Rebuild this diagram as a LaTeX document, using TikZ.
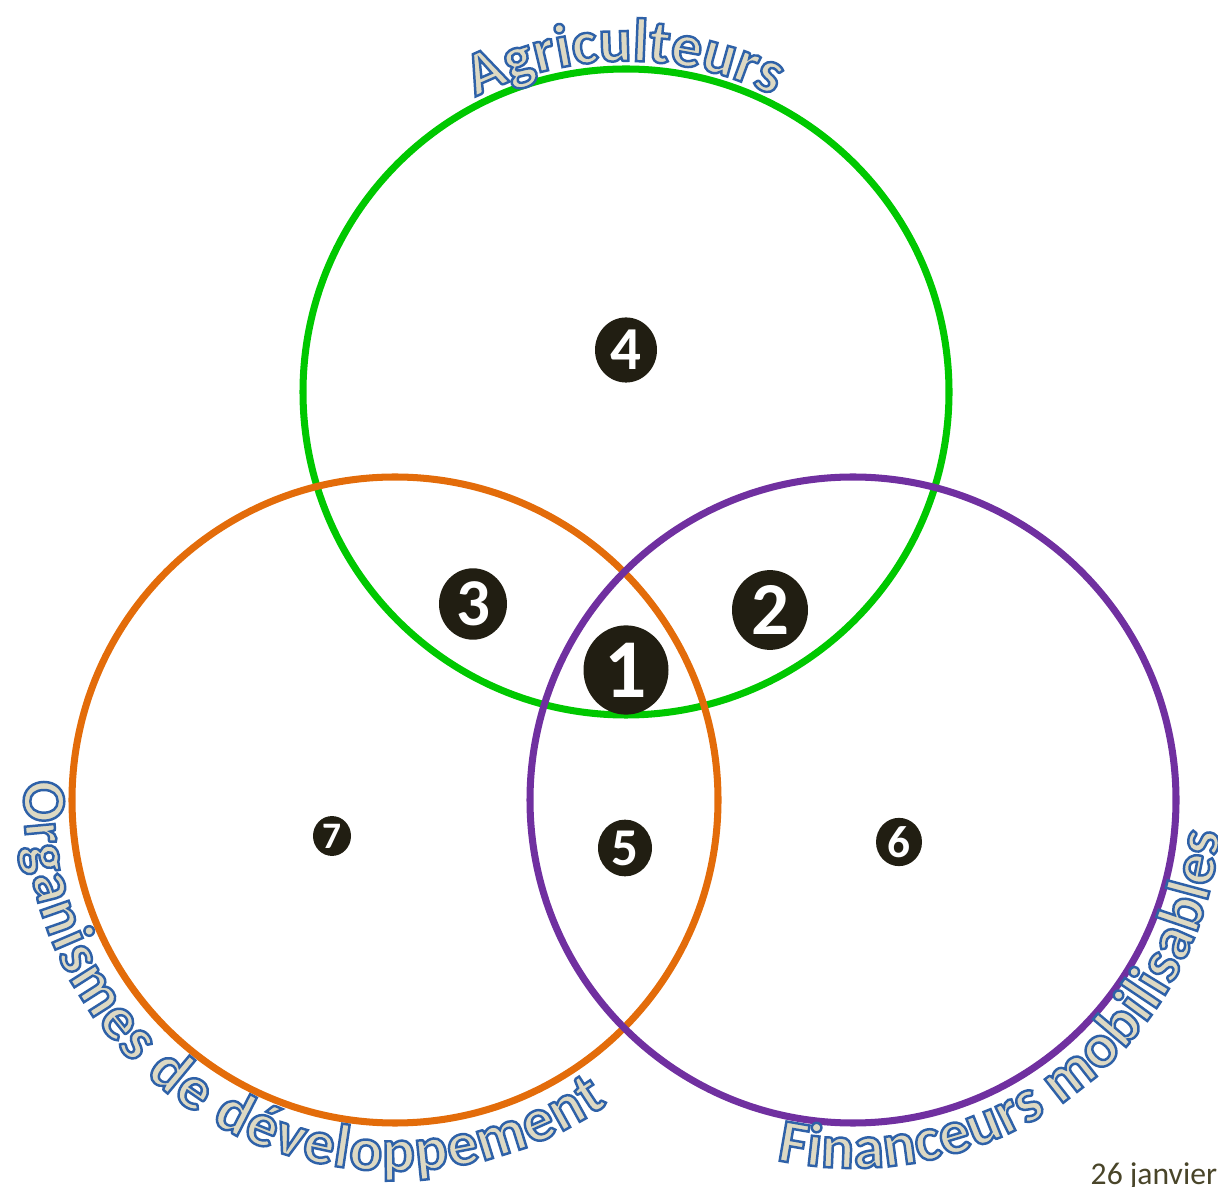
\documentclass[tikz,border=0pt]{standalone}
\usepackage{fontspec}
\setmainfont{Carlito}
\usetikzlibrary{positioning,shapes.geometric,decorations.text}

\definecolor{agrigreen}{RGB}{0,200,0}
\definecolor{orgorange}{RGB}{227,108,10}
\definecolor{finpurple}{RGB}{112,48,160}
\definecolor{markfill}{RGB}{33,30,18}
\definecolor{lblfill}{RGB}{221,217,195}
\definecolor{datecol}{RGB}{73,69,41}
% outlined glyphs (fill + stroke)
\newcommand\outlined{\special{pdf:literal direct 2 Tr 0.7 w 0.867 0.851 0.765 rg 0.18 0.38 0.66 RG}}

\begin{document}
\begin{tikzpicture}[
  ring/.style={line width=2pt},
  numdot/.style={ellipse, fill=markfill, text=white, inner sep=0pt,
    minimum width=1cm, minimum height=1.05cm,
    font=\fontsize{28}{28}\selectfont\bfseries},
  arclbl/.style={decorate, decoration={text along path, text align=fit to path,
    text color=lblfill,
    text={|\fontsize{17.5}{17.5}\selectfont\bfseries\outlined|#1}}}
]
\useasboundingbox (0,0) rectangle (12.18,11.86);

\coordinate (cagri) at (6.26,7.94);
\coordinate (corg) at (3.95,3.86);
\coordinate (cfin) at (8.53,3.86);

\draw[ring, agrigreen] (cagri) circle[radius=3.23];
\draw[ring, orgorange] (corg) circle[radius=3.23];
\draw[ring, finpurple] (cfin) circle[radius=3.23];

\node[numdot, scale=0.85] (n1) at (6.26,5.16) {1};
\node[numdot, scale=0.76] (n2) at (7.70,5.76) {2};
\node[numdot, scale=0.68] (n3) at (4.73,5.82) {3};
\node[numdot, scale=0.62] (n4) at (6.26,8.36) {4};
\node[numdot, scale=0.54] (n5) at (6.25,3.38) {5};
\node[numdot, scale=0.46] (n6) at (8.99,3.44) {6};
\node[numdot, scale=0.38] (n7) at (3.32,3.50) {7};

\node[anchor=base west, inner sep=0pt, text=datecol,
  font=\fontsize{9}{9}\selectfont] (date) at (10.90,0.02) {26 janvier};

\path[arclbl=Agriculteurs] (cagri) ++(117:3.31) arc[start angle=117, end angle=63.5, radius=3.31];
\path[arclbl=Organismes de développement] (corg) ++(177:3.71) arc[start angle=177, end angle=305, radius=3.71];
\path[arclbl=Financeurs mobilisables] (cfin) ++(258:3.68) arc[start angle=258, end angle=355, radius=3.68];

\end{tikzpicture}
\end{document}
